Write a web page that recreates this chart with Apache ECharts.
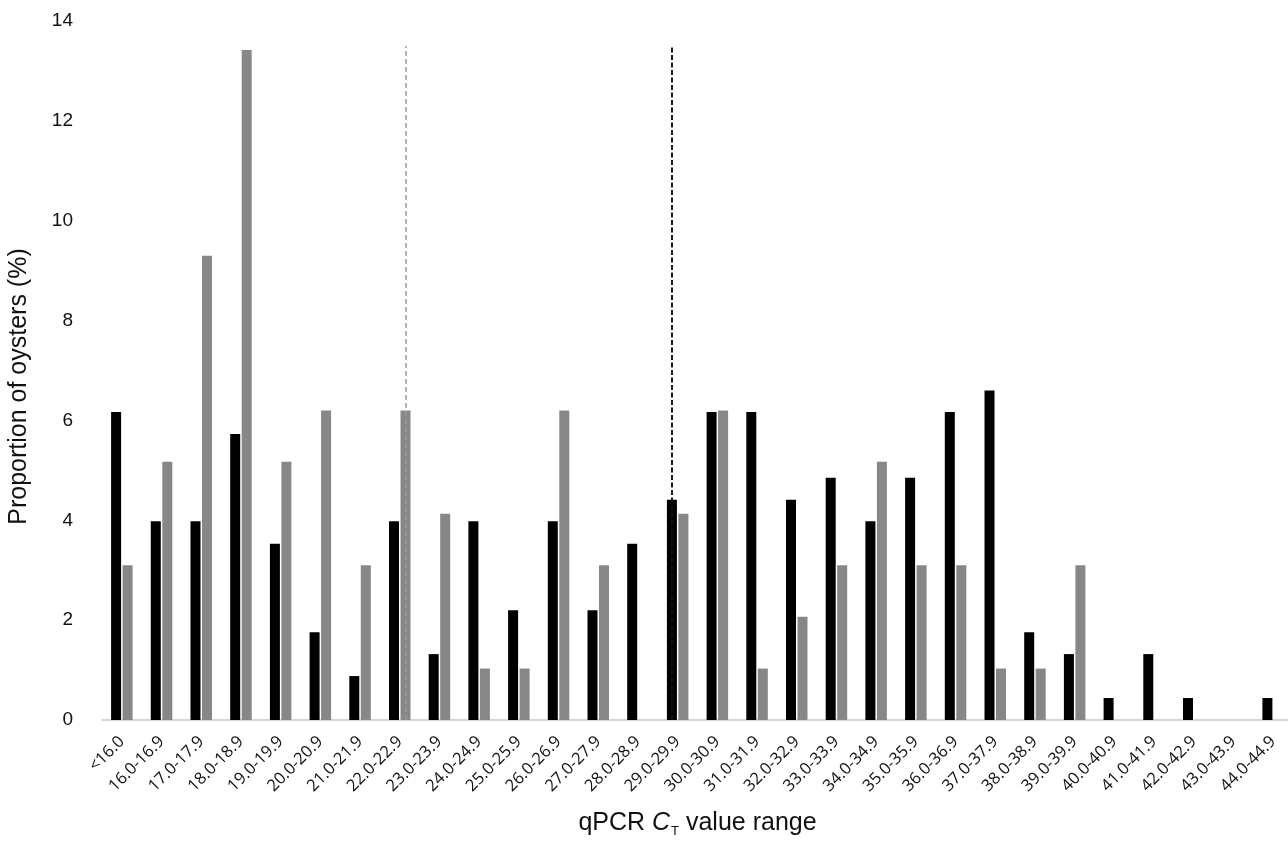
<!DOCTYPE html>
<html>
<head>
<meta charset="utf-8">
<script src="https://cdn.jsdelivr.net/npm/echarts@6/dist/echarts.min.js"></script>
<style>
  html, body { margin: 0; padding: 0; background: #fff; }
  #chart { width: 1288px; height: 842px; }
</style>
</head>
<body>
<div id="chart"></div>
<script>
// ---- Data ----
var categories = ['<16.0','16.0-16.9','17.0-17.9','18.0-18.9','19.0-19.9','20.0-20.9','21.0-21.9','22.0-22.9','23.0-23.9','24.0-24.9','25.0-25.9','26.0-26.9','27.0-27.9','28.0-28.9','29.0-29.9','30.0-30.9','31.0-31.9','32.0-32.9','33.0-33.9','34.0-34.9','35.0-35.9','36.0-36.9','37.0-37.9','38.0-38.9','39.0-39.9','40.0-40.9','41.0-41.9','42.0-42.9','43.0-43.9','44.0-44.9'];
var blackValues = [6.17, 3.98, 3.98, 5.73, 3.53, 1.76, 0.88, 3.98, 1.32, 3.98, 2.2, 3.98, 2.2, 3.53, 4.41, 6.17, 6.17, 4.41, 4.85, 3.98, 4.85, 6.17, 6.6, 1.76, 1.32, 0.44, 1.32, 0.44, 0, 0.44];
var grayValues  = [3.1, 5.17, 9.3, 13.42, 5.17, 6.2, 3.1, 6.2, 4.13, 1.03, 1.03, 6.2, 3.1, 0, 4.13, 6.2, 1.03, 2.07, 3.1, 5.17, 3.1, 3.1, 1.03, 1.03, 3.1, 0, 0, 0, 0, 0];
var yTicks = [0, 2, 4, 6, 8, 10, 12, 14];
var grayThresholdCategory = '22.0-22.9';
var blackThresholdCategory = '29.0-29.9';
var thresholdTop = 13.5;

var gi = categories.indexOf(grayThresholdCategory);
var bi = categories.indexOf(blackThresholdCategory);

var chart = echarts.init(document.getElementById('chart'), null, { renderer: 'canvas' });
chart.setOption({
  animation: false,
  backgroundColor: '#ffffff',
  grid: { left: 102, right: -5, top: 21, bottom: 122, containLabel: false, outerBoundsMode: 'none' },
  xAxis: {
    type: 'category',
    data: categories,
    axisLine: { show: true, lineStyle: { color: '#c8c8c8', width: 1.5 } },
    axisTick: { show: false },
    axisLabel: { interval: 0, rotate: 45, margin: 19, fontSize: 16.5, color: '#111', fontFamily: 'Open Sans', hideOverlap: false },
    name: '{n|qPCR }{i|C}{s|T}{n| value range}',
    nameLocation: 'middle',
    nameGap: 89,
    nameTextStyle: {
      rich: {
        n: { fontSize: 25, color: '#111', fontFamily: 'Liberation Sans' },
        i: { fontSize: 25, color: '#111', fontFamily: 'Liberation Sans', fontStyle: 'italic' },
        s: { fontSize: 13, color: '#111', fontFamily: 'Liberation Sans', padding: [16, 0, 0, 1] }
      }
    }
  },
  yAxis: {
    type: 'value',
    min: yTicks[0],
    max: yTicks[yTicks.length - 1],
    interval: yTicks[1] - yTicks[0],
    axisLine: { show: false },
    axisTick: { show: false },
    splitLine: { show: false },
    axisLabel: { fontSize: 19, color: '#111', margin: 29, fontFamily: 'Liberation Sans' },
    name: 'Proportion of oysters (%)',
    nameLocation: 'middle',
    nameGap: 70,
    nameTextStyle: { fontSize: 25, color: '#111', fontFamily: 'Liberation Sans', padding: [0, 32, 0, 0] }
  },
  series: [
    {
      type: 'bar',
      data: blackValues,
      barWidth: 10,
      barGap: '15%',
      itemStyle: { color: '#000000' },
      markLine: {
        silent: true,
        symbol: 'none',
        label: { show: false },
        lineStyle: { type: [5, 2.5], color: '#111', width: 1.9 },
        data: [[{ coord: [bi, 0] }, { coord: [bi, thresholdTop] }]]
      }
    },
    {
      type: 'bar',
      data: grayValues,
      barWidth: 10,
      itemStyle: { color: '#878787' },
      markLine: {
        silent: true,
        symbol: 'none',
        label: { show: false },
        lineStyle: { type: [5, 3], color: '#9a9a9a', width: 1.5 },
        data: [[{ coord: [gi, 0] }, { coord: [gi, thresholdTop] }]]
      }
    }
  ]
});
</script>
</body>
</html>
